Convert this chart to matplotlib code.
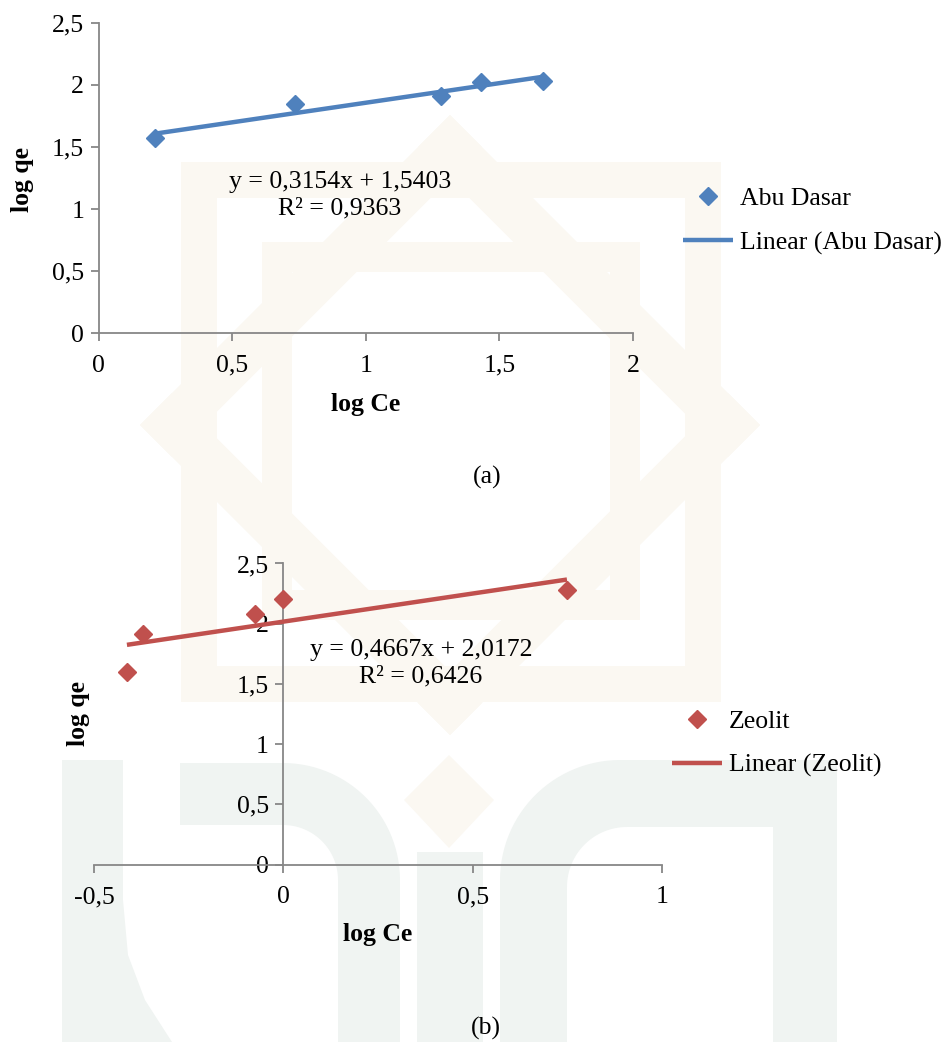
import numpy as np
import matplotlib
matplotlib.use("Agg")
import matplotlib.pyplot as plt
from matplotlib.patches import Polygon, Rectangle

# ---- Freundlich isotherm data (log Ce vs log qe) ----
abu_log_ce = [0.21, 0.734, 1.28, 1.432, 1.663]
abu_log_qe = [1.57, 1.846, 1.912, 2.023, 2.031]
abu_slope, abu_intercept, abu_r2 = 0.3154, 1.5403, 0.9363

zeo_log_ce = [-0.413, -0.37, -0.075, 0.0, 0.749]
zeo_log_qe = [1.60, 1.914, 2.081, 2.205, 2.28]
zeo_slope, zeo_intercept, zeo_r2 = 0.4667, 2.0172, 0.6426

x_ticks_a = [0, 0.5, 1, 1.5, 2]
x_ticks_b = [-0.5, 0, 0.5, 1]
y_ticks = [0, 0.5, 1, 1.5, 2, 2.5]

series_a = "Abu Dasar"
series_b = "Zeolit"
x_title = "log Ce"
y_title = "log qe"

BLUE = "#4F81BD"
RED = "#C0504D"
AXIS_GREY = "#878787"
FONT = "Liberation Serif"
FS = 18.5
TICK_FS = 18.5

W, H = 951, 1042
fig = plt.figure(figsize=(W / 100, H / 100), dpi=100)
fig.patch.set_facecolor("white")


def fx(px):
    return px / W


def fy(py):
    return 1 - py / H


def dec(v):
    return f"{v:g}".replace(".", ",")


# ---- faint background emblem ----
bg = fig.add_axes([0, 0, 1, 1], zorder=-10)
bg.set_xlim(0, W)
bg.set_ylim(H, 0)
bg.axis("off")
BEIGE = "#fbf8f2"
GREEN = "#f0f4f2"


def frame(x0, y0, x1, y1, t, color):
    for r in [(x0, y0, x1 - x0, t), (x0, y1 - t, x1 - x0, t),
              (x0, y0, t, y1 - y0), (x1 - t, y0, t, y1 - y0)]:
        bg.add_patch(Rectangle(r[:2], r[2], r[3], color=color, lw=0))


frame(181, 162, 721, 702, 36, BEIGE)
frame(262, 242, 640, 620, 30, BEIGE)
cx, cy, R, t = 450, 425, 310, 45
outer = [(cx, cy - R), (cx + R, cy), (cx, cy + R), (cx - R, cy)]
ctr = np.array([cx, cy], dtype=float)
for i in range(4):
    a, b = np.array(outer[i], float), np.array(outer[(i + 1) % 4], float)
    n = np.array([b[1] - a[1], -(b[0] - a[0])])
    n = n / np.hypot(*n) * t
    if np.dot((a + b) / 2 + n - ctr, n) > 0 and np.dot((a + b) / 2 - ctr, n) > 0:
        n = -n
    bg.add_patch(Polygon([a, b, b + n, a + n], closed=True, color=BEIGE, lw=0))
bg.add_patch(Polygon([(449, 755), (494, 800), (449, 848), (404, 800)],
                     closed=True, color=BEIGE, lw=0))

# lower emblem letters
bg.add_patch(Polygon([(62, 760), (123, 760), (123, 900), (128, 955), (145, 1000),
                      (172, 1042), (62, 1042)], closed=True, color=GREEN, lw=0))
th = np.linspace(np.pi / 2, 0, 30)
ox, oy = 283 + 117 * np.cos(th), 880 - 117 * np.sin(th)
ix, iy = 283 + 55 * np.cos(th[::-1]), 880 - 55 * np.sin(th[::-1])
pts = [(180, 763)] + list(zip(ox, oy)) + [(400, 1042), (338, 1042)] + \
      list(zip(ix, iy)) + [(180, 825)]
bg.add_patch(Polygon(pts, closed=True, color=GREEN, lw=0))
bg.add_patch(Rectangle((417, 852), 66, 190, color=GREEN, lw=0))
th2 = np.linspace(np.pi, np.pi / 2, 30)
o2 = list(zip(620 + 120 * np.cos(th2), 880 - 120 * np.sin(th2)))
i2 = list(zip(627 + 60 * np.cos(th2[::-1]), 887 - 60 * np.sin(th2[::-1])))
pts2 = [(500, 1042)] + o2 + [(837, 760), (837, 1042), (773, 1042), (773, 827)] + \
       i2 + [(567, 1042)]
bg.add_patch(Polygon(pts2, closed=True, color=GREEN, lw=0))


def style_axes(ax, xticks):
    for s in ["top", "right"]:
        ax.spines[s].set_visible(False)
    for s in ["left", "bottom"]:
        ax.spines[s].set_color(AXIS_GREY)
        ax.spines[s].set_linewidth(1.3)
    ax.set_facecolor("none")
    ax.set_xticks(xticks)
    ax.set_xticklabels([dec(v) for v in xticks], fontfamily=FONT, fontsize=TICK_FS)
    ax.set_yticks(y_ticks)
    ax.set_yticklabels([dec(v) for v in y_ticks], fontfamily=FONT, fontsize=TICK_FS)
    ax.tick_params(axis="both", direction="out", length=5.5, width=1.3,
                   color=AXIS_GREY, labelcolor="black")
    ax.tick_params(axis="x", pad=10)
    ax.tick_params(axis="y", pad=4.8)
    ax.set_ylim(0, 2.5)


def add_series(ax, xs, ys, slope, intercept, color, name):
    pts, = ax.plot(xs, ys, ls="none", marker="D", ms=9.6, color=color,
                   mec=color, label=name, zorder=4, clip_on=False)
    xl = np.array([min(xs), max(xs)])
    line, = ax.plot(xl, slope * xl + intercept, color=color, lw=3.2,
                    label=f"Linear ({name})", zorder=3, clip_on=False,
                    solid_capstyle="butt")
    return pts, line


def equation(slope, intercept, r2):
    return (f"y = {slope:.4f}x + {intercept:.4f}".replace(".", ",") + "\n" +
            f"R² = {r2:.4f}".replace(".", ","))


def legend(ax, handles, x, y):
    ax.legend(handles=list(handles), loc="center left", bbox_to_anchor=(fx(x), fy(y)),
              bbox_transform=fig.transFigure, frameon=False,
              prop={"family": FONT, "size": FS}, handlelength=1.95,
              handletextpad=0.27, labelspacing=0.82, borderpad=0, borderaxespad=0,
              numpoints=1)


# ---- (a) Abu Dasar ----
ax1 = fig.add_axes([fx(98.5), fy(333.3), fx(633 - 98.5), (333.3 - 22.7) / H])
style_axes(ax1, x_ticks_a)
ax1.set_xlim(0, 2)
h1 = add_series(ax1, abu_log_ce, abu_log_qe, abu_slope, abu_intercept, BLUE, series_a)
ax1.set_xlabel(x_title, fontfamily=FONT, fontsize=FS, fontweight="bold", va="center")
ax1.xaxis.set_label_coords((366 - 98.5) / 534.5, (333.3 - 404) / 310.6)
ax1.set_ylabel(y_title, fontfamily=FONT, fontsize=FS, fontweight="bold", va="center")
ax1.yaxis.set_label_coords((22 - 98.5) / 534.5, (333.3 - 179) / 310.6)
fig.text(fx(340), fy(195), equation(abu_slope, abu_intercept, abu_r2),
         ha="center", va="center", ma="center", fontfamily=FONT, fontsize=FS,
         linespacing=1.25)
legend(ax1, h1, 683, 221)
fig.text(fx(487), fy(477), "(a)", ha="center", va="center", fontfamily=FONT, fontsize=FS)

# ---- (b) Zeolit: axes cross at the origin ----
ax2 = fig.add_axes([fx(94), fy(864.5), fx(662 - 94), (864.5 - 563.5) / H])
ax2.spines["left"].set_position(("data", 0))
ax2.spines["bottom"].set_position(("data", 0))
style_axes(ax2, x_ticks_b)
ax2.set_xlim(-0.5, 1)
h2 = add_series(ax2, zeo_log_ce, zeo_log_qe, zeo_slope, zeo_intercept, RED, series_b)
ax2.set_xlabel(x_title, fontfamily=FONT, fontsize=FS, fontweight="bold", va="center")
ax2.xaxis.set_label_coords((377.5 - 94) / 568, (864.5 - 935) / 301)
ax2.set_ylabel(y_title, fontfamily=FONT, fontsize=FS, fontweight="bold", va="center")
ax2.yaxis.set_label_coords((78 - 94) / 568, (864.5 - 713) / 301)
fig.text(fx(421), fy(663), equation(zeo_slope, zeo_intercept, zeo_r2),
         ha="center", va="center", ma="center", fontfamily=FONT, fontsize=FS,
         linespacing=1.25)
legend(ax2, h2, 672, 743.5)
fig.text(fx(486), fy(1028), "(b)", ha="center", va="center", fontfamily=FONT, fontsize=FS)

fig.savefig("out.png", dpi=100, facecolor="white")
